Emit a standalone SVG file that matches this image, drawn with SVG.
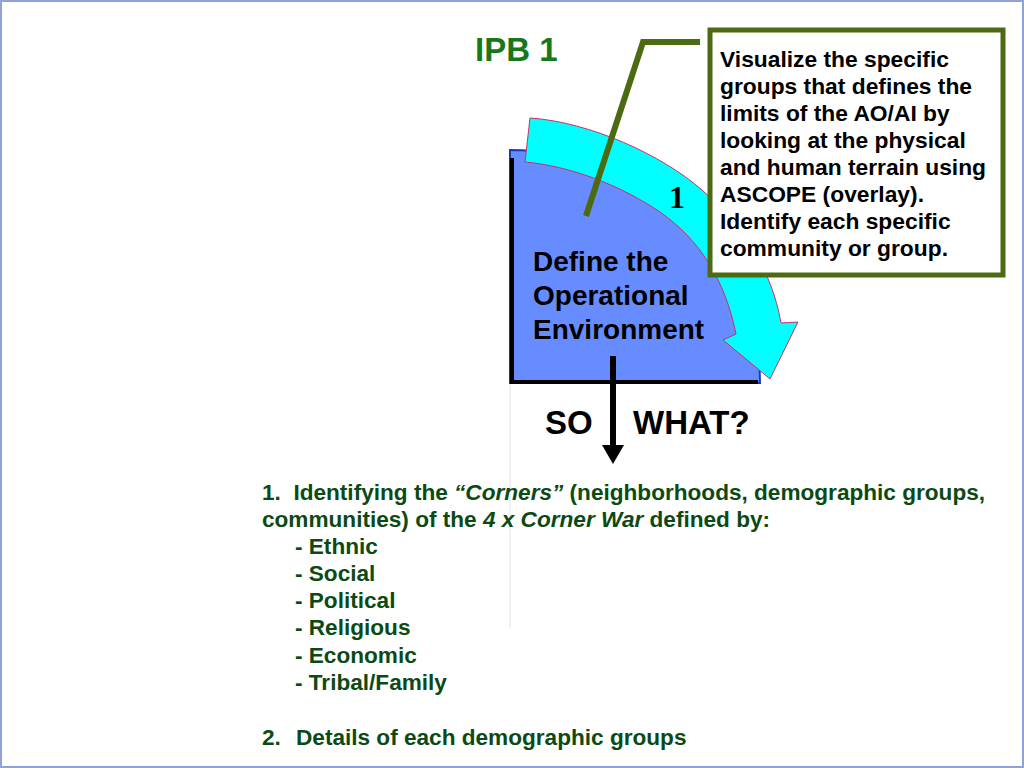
<svg xmlns="http://www.w3.org/2000/svg" width="1024" height="768" viewBox="0 0 1024 768">
<defs>
<style>
.b{font-family:"Liberation Sans",Arial,sans-serif;font-weight:bold}
.box{font-size:22.8px;fill:#000}
.lst{font-size:22.6px;fill:#0c4a14}
.big{font-size:33px;fill:#000}
</style>
</defs>
<rect x="1" y="1" width="1022" height="766" fill="#fff" stroke="#8fa2dc" stroke-width="2"/>
<line x1="510" y1="385" x2="510" y2="628" stroke="#e2e5f2" stroke-width="1"/>

<g id="title">
<text class="b" x="475" y="61" font-size="33" fill="#17781a">IPB 1</text>
</g>

<g id="step1">
<path d="M510,150 A250,233 0 0 1 760,383 L510,383 Z" fill="#668cff" stroke="#1b3bb5" stroke-width="2"/>
<line x1="512" y1="158" x2="512" y2="384" stroke="#000" stroke-width="4"/>
<line x1="510" y1="382" x2="758" y2="382" stroke="#000" stroke-width="4"/>
<path d="M530,118 C590,122 662,155 702,190 C742,225 772,270 781,323 L798,322 L770,379 L723,340 L736,334 C725,280 700,240 660,212 C620,185 570,166 525,162 Z" fill="#00ffff" stroke="#c8306a" stroke-width="1"/>
<text x="669" y="208" font-family="Liberation Serif,'Times New Roman',serif" font-weight="bold" font-size="32" fill="#000">1</text>
<text class="b" font-size="28" fill="#000">
<tspan x="533" y="271">Define the</tspan>
<tspan x="533" y="305">Operational</tspan>
<tspan x="533" y="339">Environment</tspan>
</text>
</g>

<g id="callout">
<rect x="710" y="30" width="293" height="245" fill="#fff" stroke="#4b6a12" stroke-width="5"/>
<text class="b box">
<tspan x="720" y="67">Visualize the specific</tspan>
<tspan x="720" y="94">groups that defines the</tspan>
<tspan x="720" y="121">limits of the AO/AI by</tspan>
<tspan x="720" y="148">looking at the physical</tspan>
<tspan x="720" y="175">and human terrain using</tspan>
<tspan x="720" y="202">ASCOPE (overlay).</tspan>
<tspan x="720" y="229">Identify each specific</tspan>
<tspan x="720" y="256">community or group.</tspan>
</text>
</g>

<g id="connectors">
<polyline points="586,216 643,42 700,42" fill="none" stroke="#4b6a12" stroke-width="6"/>
<line x1="613" y1="356" x2="613" y2="447" stroke="#000" stroke-width="6"/>
<polygon points="602,445 624,445 613,464" fill="#000"/>
</g>

<g id="sowhat">
<text class="b big" x="545" y="434">SO</text>
<text class="b big" x="633" y="434">WHAT?</text>
</g>

<g id="list">
<text class="b lst">
<tspan x="262" y="500">1.&#160; Identifying the <tspan font-style="italic">“Corners”</tspan> (neighborhoods, demographic groups,</tspan>
<tspan x="262" y="527">communities) of the <tspan font-style="italic">4 x Corner War</tspan> defined by:</tspan>
<tspan x="295" y="554">- Ethnic</tspan>
<tspan x="295" y="581">- Social</tspan>
<tspan x="295" y="608">- Political</tspan>
<tspan x="295" y="635">- Religious</tspan>
<tspan x="295" y="663">- Economic</tspan>
<tspan x="295" y="690">- Tribal/Family</tspan>
<tspan x="262" y="745">2.</tspan><tspan x="296" y="745">Details of each demographic groups</tspan>
</text>
</g>
</svg>
